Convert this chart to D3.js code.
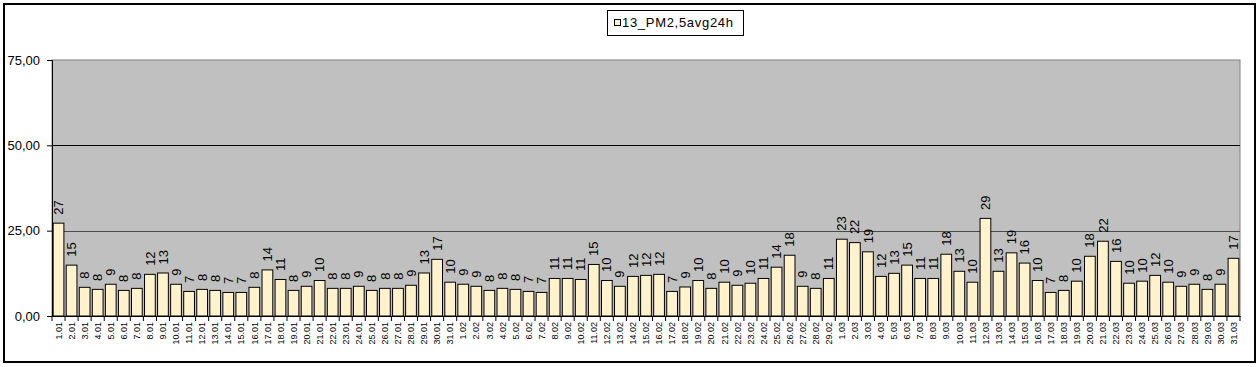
<!DOCTYPE html>
<html>
<head>
<meta charset="utf-8">
<script src="https://cdn.jsdelivr.net/npm/d3@7/dist/d3.min.js"></script>
<style>
  html, body { margin: 0; padding: 0; background: #fff; }
  svg { display: block; font-family: "Liberation Sans", Arial, sans-serif; }
</style>
</head>
<body>
<svg id="chart" width="1260" height="367"></svg>
<script>
// ---- data ----
const categories = [
  "1.01","2.01","3.01","4.01","5.01","6.01","7.01","8.01","9.01","10.01",
  "11.01","12.01","13.01","14.01","15.01","16.01","17.01","18.01","19.01","20.01",
  "21.01","22.01","23.01","24.01","25.01","26.01","27.01","28.01","29.01","30.01","31.01",
  "1.02","2.02","3.02","4.02","5.02","6.02","7.02","8.02","9.02","10.02",
  "11.02","12.02","13.02","14.02","15.02","16.02","17.02","18.02","19.02","20.02",
  "21.02","22.02","23.02","24.02","25.02","26.02","27.02","28.02","29.02",
  "1.03","2.03","3.03","4.03","5.03","6.03","7.03","8.03","9.03","10.03",
  "11.03","12.03","13.03","14.03","15.03","16.03","17.03","18.03","19.03","20.03",
  "21.03","22.03","23.03","24.03","25.03","26.03","27.03","28.03","29.03","30.03","31.03"
];
const seriesName = "13_PM2,5avg24h";
const values = [
  27.2, 14.9, 8.4, 7.8, 9.3, 7.5, 8.1, 12.2, 12.6, 9.3,
  7.2, 7.8, 7.5, 6.9, 6.9, 8.4, 13.5, 10.7, 7.5, 8.7,
  10.4, 8.1, 8.1, 8.7, 7.5, 8.1, 8.1, 9.0, 12.6, 16.6, 9.9,
  9.3, 8.7, 7.5, 8.1, 7.8, 7.2, 6.9, 11.0, 11.0, 10.7,
  15.1, 10.4, 8.7, 11.6, 11.9, 12.2, 7.2, 8.5, 10.4, 8.1,
  9.9, 9.0, 9.6, 11.0, 14.3, 17.8, 8.7, 8.1, 11.0,
  22.5, 21.5, 18.8, 11.6, 12.5, 14.9, 11.0, 11.0, 18.1, 13.1,
  9.9, 28.6, 13.1, 18.5, 15.5, 10.4, 6.9, 7.5, 10.2, 17.5,
  21.9, 16.0, 9.6, 10.2, 11.9, 9.9, 8.7, 9.3, 7.8, 9.3, 16.9
];
const yTicks = [0, 25, 50, 75];

// ---- layout ----
const svg = d3.select("#chart");
const plot = { left: 52, top: 60, right: 1240, bottom: 316 };

const x = d3.scaleBand().domain(categories)
  .range([plot.left, plot.right]).paddingInner(0.1).paddingOuter(0.05);
const y = d3.scaleLinear().domain([0, 75]).range([plot.bottom, plot.top]);
const fmt = v => d3.format(".2f")(v).replace(".", ",");

// outer chart frame
svg.append("rect").attr("x", 0).attr("y", 0).attr("width", 1260).attr("height", 367).attr("fill", "#fff");
svg.append("rect").attr("x", 4).attr("y", 4).attr("width", 1251).attr("height", 358)
  .attr("fill", "none").attr("stroke", "#000").attr("stroke-width", 2);

// plot area
svg.append("rect")
  .attr("x", plot.left).attr("y", plot.top)
  .attr("width", plot.right - plot.left).attr("height", plot.bottom - plot.top)
  .attr("fill", "#c0c0c0").attr("stroke", "#808080").attr("stroke-width", 1);

// gridlines
svg.append("g").selectAll("line").data(yTicks.filter(t => t > 0 && t < 75)).join("line")
  .attr("x1", plot.left).attr("x2", plot.right)
  .attr("y1", d => Math.round(y(d)) + 0.5).attr("y2", d => Math.round(y(d)) + 0.5)
  .attr("stroke", d => d === 50 ? "#000" : "#4a4a4a").attr("stroke-width", 1);

// bars
svg.append("g").selectAll("rect").data(values).join("rect")
  .attr("x", (d, i) => x(categories[i]) + 0.5)
  .attr("y", d => y(d))
  .attr("width", x.bandwidth() - 1)
  .attr("height", d => plot.bottom - y(d))
  .attr("fill", "#fff2cc").attr("stroke", "#000").attr("stroke-width", 1);

// value labels
svg.append("g").selectAll("text").data(values).join("text")
  .attr("transform", (d, i) => `translate(${x(categories[i]) + x.bandwidth() / 2 + 4.6},${y(d) - 8.5}) rotate(-90)`)
  .attr("text-anchor", "start")
  .attr("font-size", 13)
  .attr("fill", "#000")
  .text(d => Math.round(d));

// y axis
const yAxis = d3.axisLeft(y).tickValues(yTicks).tickSize(5).tickPadding(7).tickFormat(fmt);
const gy = svg.append("g").attr("transform", `translate(${plot.left},0)`).call(yAxis);
gy.select(".domain").attr("stroke", "#000");
gy.selectAll(".tick line").attr("stroke", "#000");
gy.selectAll(".tick text").attr("font-size", 13)
  .attr("font-family", "Liberation Sans, Arial, sans-serif").attr("fill", "#000");

// x axis (baseline + tick marks between categories)
const xAxis = d3.axisBottom(x).tickSize(0).tickFormat("");
const gx = svg.append("g").attr("transform", `translate(0,${plot.bottom})`).call(xAxis);
gx.select(".domain").attr("stroke", "#000");
const step = x.step();
const bounds = d3.range(categories.length + 1).map(i => x(categories[0]) - x.step() * x.paddingInner() / 2 + i * step);
svg.append("g").selectAll("line").data(bounds).join("line")
  .attr("x1", d => d).attr("x2", d => d)
  .attr("y1", plot.bottom).attr("y2", plot.bottom + 5)
  .attr("stroke", "#000");

// category labels
svg.append("g").selectAll("text").data(categories).join("text")
  .attr("transform", d => `translate(${x(d) + x.bandwidth() / 2 + 3.2},${plot.bottom + 6}) rotate(-90)`)
  .attr("text-anchor", "end")
  .attr("font-size", 9)
  .attr("fill", "#000")
  .text(d => d);

// legend
const lg = svg.append("g");
lg.append("rect").attr("x", 607.5).attr("y", 10.5).attr("width", 136).attr("height", 25)
  .attr("fill", "#fff").attr("stroke", "#000").attr("stroke-width", 1);
lg.append("rect").attr("x", 614.5).attr("y", 19.5).attr("width", 6).attr("height", 6)
  .attr("fill", "#fff2cc").attr("stroke", "#000").attr("stroke-width", 1);
lg.append("text").attr("x", 622).attr("y", 27).attr("font-size", 13).attr("letter-spacing", "0.7px")
  .attr("fill", "#000").text(seriesName);
</script>
</body>
</html>
